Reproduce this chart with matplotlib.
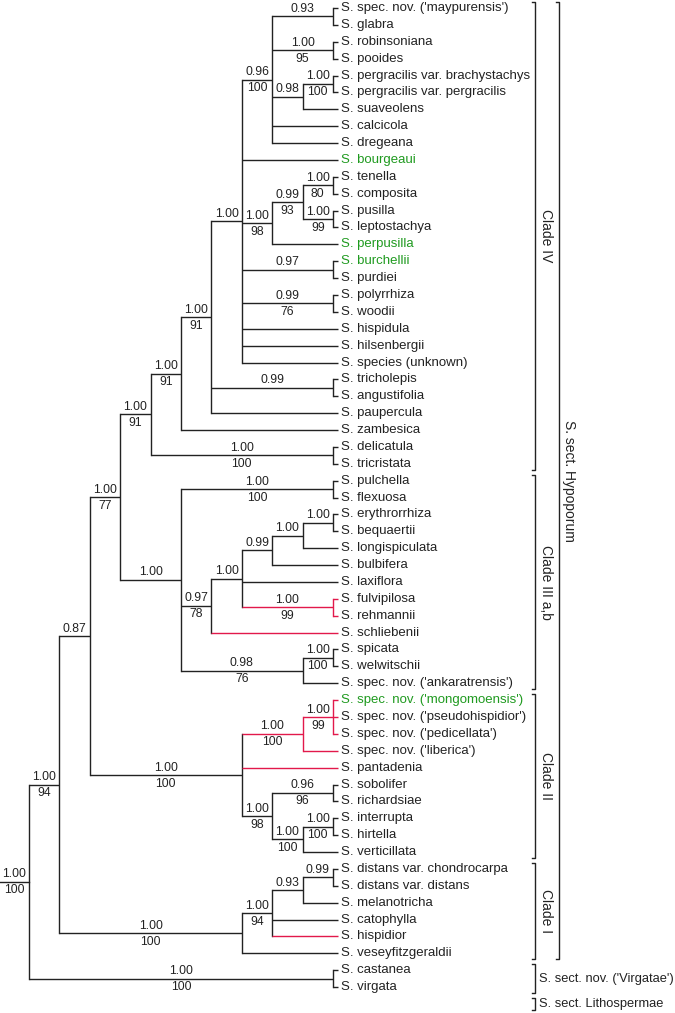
import matplotlib
matplotlib.use("Agg")
import matplotlib.pyplot as plt

# ---------------- data ----------------
LEAVES = [
    "S. spec. nov. ('maypurensis')", "S. glabra", "S. robinsoniana", "S. pooides",
    "S. pergracilis var. brachystachys", "S. pergracilis var. pergracilis", "S. suaveolens",
    "S. calcicola", "S. dregeana", "S. bourgeaui", "S. tenella", "S. composita", "S. pusilla",
    "S. leptostachya", "S. perpusilla", "S. burchellii", "S. purdiei", "S. polyrrhiza",
    "S. woodii", "S. hispidula", "S. hilsenbergii", "S. species (unknown)", "S. tricholepis",
    "S. angustifolia", "S. paupercula", "S. zambesica", "S. delicatula", "S. tricristata",
    "S. pulchella", "S. flexuosa", "S. erythrorrhiza", "S. bequaertii", "S. longispiculata",
    "S. bulbifera", "S. laxiflora", "S. fulvipilosa", "S. rehmannii", "S. schliebenii",
    "S. spicata", "S. welwitschii", "S. spec. nov. ('ankaratrensis')",
    "S. spec. nov. ('mongomoensis')", "S. spec. nov. ('pseudohispidior')",
    "S. spec. nov. ('pedicellata')", "S. spec. nov. ('liberica')", "S. pantadenia",
    "S. sobolifer", "S. richardsiae", "S. interrupta", "S. hirtella", "S. verticillata",
    "S. distans var. chondrocarpa", "S. distans var. distans", "S. melanotricha",
    "S. catophylla", "S. hispidior", "S. veseyfitzgeraldii", "S. castanea", "S. virgata",
    "S. lithosperma",
]

# topology (leaf indices), internal labels = "posterior/bootstrap"
CLADE_IV = ("((((((0,1)0.93/,(2,3)1.00/95,((4,5)1.00/100,6)0.98/,7,8)0.96/100,9,"
            "(((10,11)1.00/80,(12,13)1.00/99)0.99/93,14)1.00/98,(15,16)0.97/,"
            "(17,18)0.99/76,19,20,21)1.00/,(22,23)0.99/,24)1.00/91,25)1.00/91,"
            "(26,27)1.00/100)1.00/91")
CLADE_III = ("((28,29)1.00/100,(((((30,31)1.00/,32)1.00/,33)0.99/,34,(35,36)1.00/99)1.00/,"
             "37)0.97/78,((38,39)1.00/100,40)0.98/76)1.00/)1.00/77")
CLADE_II = ("(((41,42,43)1.00/99,44)1.00/100,45,((46,47)0.96/96,"
            "((48,49)1.00/100,50)1.00/100)1.00/98)1.00/100")
CLADE_I = "((((51,52)0.99/,53)0.93/,54,55)1.00/94,56)1.00/100"
TREE = ("((((" + CLADE_IV + "," + CLADE_III + "," + CLADE_II + ")0.87/,"
        + CLADE_I + ")1.00/94,(57,58)1.00/100)1.00/100,59)1.00/100")

RED_LEAVES = [35, 36, 37, 41, 42, 43, 44, 45, 55]
GREEN_LEAVES = [9, 14, 15, 41]

CLADES = [("Clade IV", 0, 27), ("Clade III a,b", 28, 40), ("Clade II", 41, 50),
          ("Clade I", 51, 56)]
SECTION_ROT = ("S. sect. Hypoporum", 0, 56)
SECTIONS = [("S. sect. nov. ('Virgatae')", 57, 58), ("S. sect. Lithospermae", 59, 59)]

# ---------------- styling ----------------
BLACK = "#222222"
RED = "#e2194b"
GREEN = "#1f9a1f"
LW = 1.0
W, H = 675, 1013
Y0, Y1 = 8, 1004            # first / last leaf row
X_ROOT, UNIT, STUB = 29, 30.4, 5
FONT = ["Liberation Sans", "DejaVu Sans"]
NARROW = ["Liberation Sans Narrow", "Liberation Sans", "DejaVu Sans"]


def parse(s):
    pos = 0

    def node():
        nonlocal pos
        if s[pos] == "(":
            pos += 1
            kids = [node()]
            while s[pos] == ",":
                pos += 1
                kids.append(node())
            pos += 1  # ')'
            st = pos
            while pos < len(s) and s[pos] not in ",()":
                pos += 1
            return {"kids": kids, "label": s[st:pos]}
        st = pos
        while s[pos] not in ",()":
            pos += 1
        return {"leaf": int(s[st:pos])}

    return node()


root = parse(TREE)
n = len(LEAVES)
sp = (Y1 - Y0) / (n - 1)


def leafset(nd):
    if "leaf" in nd:
        return [nd["leaf"]]
    out = []
    for k in nd["kids"]:
        out += leafset(k)
    return out


def layout(nd):
    if "leaf" in nd:
        nd["y"] = Y0 + nd["leaf"] * sp
        nd["h"] = 0
    else:
        for k in nd["kids"]:
            layout(k)
        nd["y"] = (nd["kids"][0]["y"] + nd["kids"][-1]["y"]) / 2
        nd["h"] = 1 + max(k["h"] for k in nd["kids"])
    nd["red"] = all(l in RED_LEAVES for l in leafset(nd))


layout(root)
HR = root["h"]


def xpos(nd):
    if "leaf" in nd:
        return X_ROOT + (HR - 1) * UNIT + STUB
    return X_ROOT + (HR - nd["h"]) * UNIT


fig = plt.figure(figsize=(W / 100, H / 100), dpi=100)
ax = fig.add_axes([0, 0, 1, 1])
ax.set_xlim(0, W)
ax.set_ylim(H, 0)
ax.axis("off")


def support(x0, x1, y, label):
    pp, bs = label.split("/")
    xm = (x0 + x1) / 2
    if pp:
        ax.text(xm, y - 1.5, pp, ha="center", va="bottom", fontsize=8.7,
                family=FONT, color=BLACK)
    if bs:
        ax.text(xm, y + 2.5, bs, ha="center", va="top", fontsize=8.7,
                family=FONT, color=BLACK)


def draw(nd):
    x = xpos(nd)
    col = RED if nd["red"] else BLACK
    ax.plot([x, x], [nd["kids"][0]["y"], nd["kids"][-1]["y"]], color=col, lw=LW,
            solid_capstyle="projecting")
    for k in nd["kids"]:
        xk = xpos(k)
        kc = RED if k["red"] else BLACK
        ax.plot([x, xk], [k["y"], k["y"]], color=kc, lw=LW, solid_capstyle="butt")
        if "leaf" in k:
            i = k["leaf"]
            ax.text(xk + 3, k["y"], LEAVES[i], ha="left", va="center", fontsize=9.5,
                    family=FONT, color=GREEN if i in GREEN_LEAVES else BLACK)
        else:
            support(x, xk, k["y"], k["label"])
            draw(k)


# root stub
ax.plot([0, xpos(root)], [root["y"], root["y"]], color=BLACK, lw=LW)
support(0, xpos(root), root["y"], root["label"])
draw(root)


def bracket(x, i0, i1, tick=3.5):
    ya = Y0 + i0 * sp - 0.35 * sp
    yb = Y0 + i1 * sp + 0.35 * sp
    ax.plot([x - tick, x, x, x - tick], [ya, ya, yb, yb], color=BLACK, lw=LW)
    return (ya + yb) / 2


for name, i0, i1 in CLADES:
    ym = bracket(535, i0, i1)
    ax.text(546, ym, name, rotation=270, ha="center", va="center", fontsize=10,
            family=NARROW, color=BLACK)

name, i0, i1 = SECTION_ROT
ym = bracket(559, i0, i1)
ax.text(569, ym, name, rotation=270, ha="center", va="center", fontsize=10,
        family=NARROW, color=BLACK)

for name, i0, i1 in SECTIONS:
    ym = bracket(535, i0, i1)
    ax.text(539, ym, name, ha="left", va="center", fontsize=9.3, family=FONT,
            color=BLACK)

fig.savefig("out.png", dpi=100)
